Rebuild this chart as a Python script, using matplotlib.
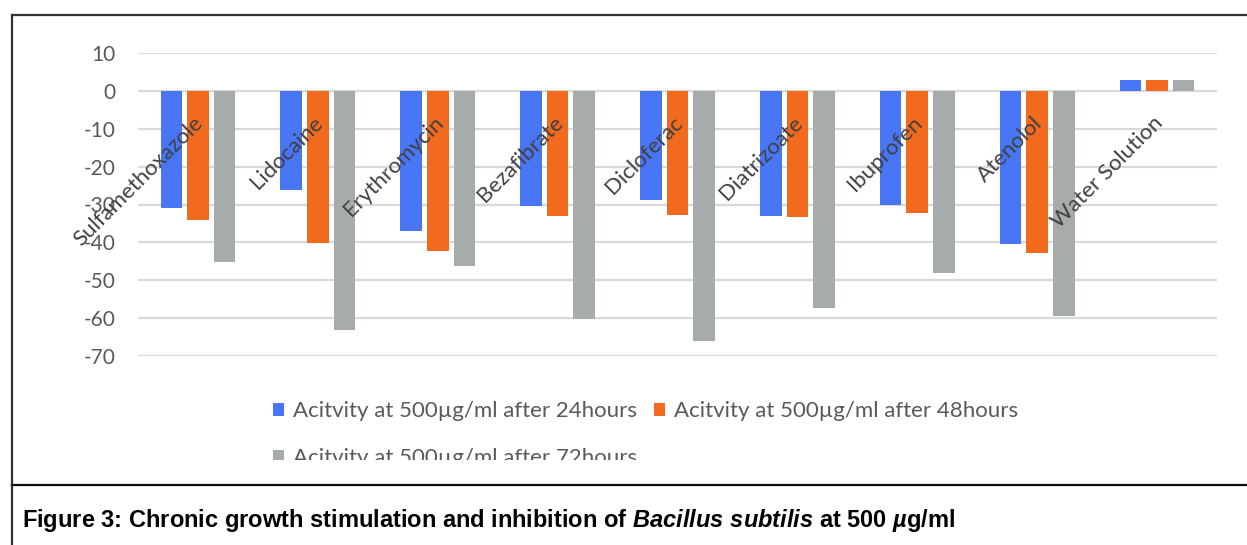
import numpy as np
import matplotlib
matplotlib.use('Agg')
import matplotlib.pyplot as plt
from matplotlib.lines import Line2D
from matplotlib.patches import Rectangle

# ============= data ============================================
categories = ['Sulfamethoxazole', 'Lidocaine', 'Erythromycin', 'Bezafibrate', 'Dicloferac',
              'Diatrizoate', 'Ibuprofen', 'Atenolol', 'Water Solution']
act_24h = [-30.9, -26.2, -36.9, -30.4, -28.8, -33.1, -30.1, -40.5, 3.0]
act_48h = [-34.1, -40.2, -42.3, -33.1, -32.7, -33.2, -32.3, -42.7, 3.0]
act_72h = [-45.1, -63.1, -46.2, -60.1, -66.0, -57.3, -48.2, -59.5, 3.0]
series_labels = ['Acitvity at 500µg/ml after 24hours',
                 'Acitvity at 500µg/ml after 48hours',
                 'Acitvity at 500µg/ml after 72hours']
yticks = [10, 0, -10, -20, -30, -40, -50, -60, -70]
caption = ('Figure 3: Chronic growth stimulation and inhibition of '
           r'$\mathit{Bacillus\ subtilis}$ at 500 $\mathit{µ}$g/ml')

colors = ['#4876F4', '#F26A1E', '#A5ACAB']

plt.rcParams['mathtext.fontset'] = 'custom'
plt.rcParams['mathtext.it'] = 'Liberation Sans:italic:bold'
plt.rcParams['mathtext.rm'] = 'Liberation Sans:bold'

W, H = 1247, 545
fig = plt.figure(figsize=(W / 100, H / 100), dpi=100)
ax = fig.add_axes([138 / W, 1 - 356 / H, (1217 - 138) / W, (356 - 53) / H])

x = np.arange(len(categories))
bw = 0.18
off = 0.222
bars = []
for k, vals in enumerate([act_24h, act_48h, act_72h]):
    b = ax.bar(x + (k - 1) * off, vals, width=bw, color=colors[k], label=series_labels[k], zorder=2)
    bars.append(b)

ax.set_xlim(-0.5, len(categories) - 0.5)
ax.set_ylim(-70, 10)
ax.set_yticks(yticks)
ax.set_yticklabels([str(v) for v in yticks], family='Lato', fontsize=15, color='#595959')
ax.set_xticks([])
ax.tick_params(axis='y', length=0, pad=16)
ax.grid(axis='y', color='#D9D9D9', lw=1.6, zorder=0)
ax.set_axisbelow(True)
for s in ax.spines.values():
    s.set_visible(False)

# category labels sit on the zero axis, rotated like excel does
for i, name in enumerate(categories):
    ax.text(i - 0.04, -5.8, name, rotation=45, rotation_mode='anchor', ha='right', va='top',
            family='Lato', fontsize=16, color='#404040', zorder=4)

# legend row-major order: 24h, 48h on top row, 72h below
handles = [bars[0], bars[2], bars[1]]
labels = [series_labels[0], series_labels[2], series_labels[1]]
leg = ax.legend(handles, labels, ncol=2, loc='upper left', bbox_to_anchor=(262 / W, 1 - 390 / H),
                bbox_transform=fig.transFigure, frameon=False, borderpad=0,
                prop=dict(family='Lato', size=16), labelcolor='#595959',
                handlelength=0.5, handleheight=0.5, handletextpad=0.4,
                columnspacing=0.75, labelspacing=1.2)

# third legend row gets cut by the chart box
fig.add_artist(Rectangle((14 / W, 1 - 484 / H), 1, (484 - 460) / H, transform=fig.transFigure,
                         facecolor='white', edgecolor='none', zorder=5))

# frame lines
fig.add_artist(Line2D([12 / W, 1], [1 - 15 / H, 1 - 15 / H], transform=fig.transFigure, color='#333333', lw=1.6, zorder=6))
fig.add_artist(Line2D([12 / W, 12 / W], [0, 1 - 15 / H], transform=fig.transFigure, color='#333333', lw=1.6, zorder=6))
fig.add_artist(Line2D([12 / W, 1], [1 - 485 / H, 1 - 485 / H], transform=fig.transFigure, color='#111111', lw=1.6, zorder=6))

fig.text(22 / W, 1 - 527 / H, caption, va='baseline', ha='left', family='Liberation Sans',
         fontweight='bold', fontsize=17, color='black')

plt.savefig('out.png', dpi=100)
